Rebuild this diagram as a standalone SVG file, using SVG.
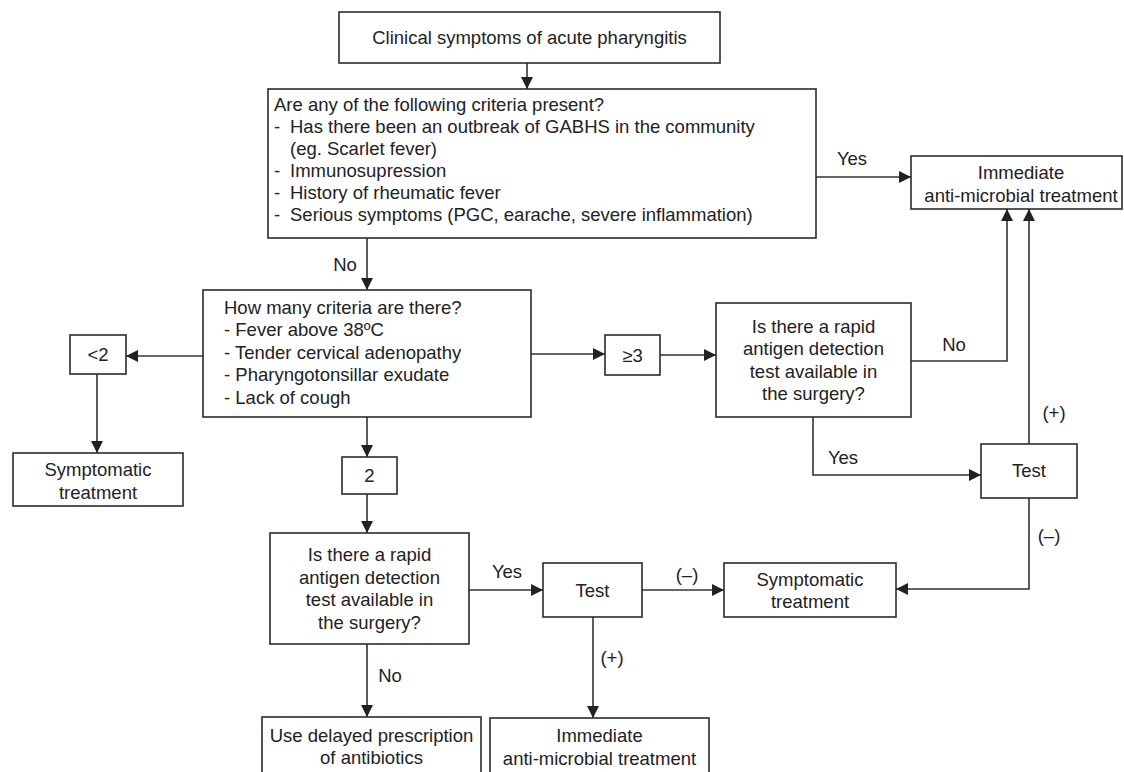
<svg xmlns="http://www.w3.org/2000/svg" width="1124" height="772" viewBox="0 0 1124 772">
<style>
.box{fill:#fff;stroke:#2b2b2b;stroke-width:1.6}
.t{font-family:"Liberation Sans",Arial,sans-serif;font-size:18.5px;fill:#222}
.c{text-anchor:middle}
.ln{fill:none;stroke:#333;stroke-width:1.6;marker-end:url(#ah)}
</style>
<defs>
<marker id="ah" markerUnits="userSpaceOnUse" markerWidth="13" markerHeight="13" refX="12" refY="6" orient="auto">
<path d="M0,0 L12,6 L0,12 z" fill="#222"/>
</marker>
</defs>
<rect width="1124" height="772" fill="#fff"/>
<g id="connectors">
<path class="ln" d="M527,63 V89"/>
<path class="ln" d="M816,177 H911"/>
<path class="ln" d="M367,238 V290"/>
<path class="ln" d="M203,356 H126"/>
<path class="ln" d="M97,374 V453"/>
<path class="ln" d="M531,354 H605"/>
<path class="ln" d="M660,355 H716"/>
<path class="ln" d="M911,361 H1007 V209"/>
<path class="ln" d="M813,417 V475 H981"/>
<path class="ln" d="M1029,444 V209"/>
<path class="ln" d="M1029,498 V589 H896"/>
<path class="ln" d="M367,417 V457"/>
<path class="ln" d="M367,494 V533"/>
<path class="ln" d="M469,590 H543"/>
<path class="ln" d="M367,644 V717"/>
<path class="ln" d="M642,590 H724"/>
<path class="ln" d="M593,617 V718"/>
</g>
<g id="labels">
<text class="t c" x="852" y="165">Yes</text>
<text class="t c" x="345" y="271">No</text>
<text class="t c" x="954" y="351">No</text>
<text class="t c" x="843" y="464">Yes</text>
<text class="t c" x="1054" y="419">(+)</text>
<text class="t c" x="1049" y="542">(–)</text>
<text class="t c" x="507" y="578">Yes</text>
<text class="t c" x="390" y="682">No</text>
<text class="t c" x="687" y="581">(–)</text>
<text class="t c" x="612" y="664">(+)</text>
</g>
<g id="n-start">
<rect class="box" x="339" y="12" width="381" height="51"/>
<text class="t c" x="529.5" y="44">Clinical symptoms of acute pharyngitis</text>
</g>
<g id="n-criteria">
<rect class="box" x="268" y="89" width="548" height="149"/>
<text class="t" x="274" y="111">Are any of the following criteria present?</text>
<text class="t" x="274" y="133">-</text><text class="t" x="290" y="133">Has there been an outbreak of GABHS in the community</text>
<text class="t" x="290" y="155">(eg. Scarlet fever)</text>
<text class="t" x="274" y="177">-</text><text class="t" x="290" y="177">Immunosupression</text>
<text class="t" x="274" y="199">-</text><text class="t" x="290" y="199">History of rheumatic fever</text>
<text class="t" x="274" y="221">-</text><text class="t" x="290" y="221">Serious symptoms (PGC, earache, severe inflammation)</text>
</g>
<g id="n-immediate-top">
<rect class="box" x="911" y="156" width="211" height="53"/>
<text class="t c" x="1021" y="178.5">Immediate</text>
<text class="t c" x="1021" y="201.5">anti-microbial treatment</text>
</g>
<g id="n-howmany">
<rect class="box" x="203" y="290" width="328" height="127"/>
<text class="t" x="224" y="313.5">How many criteria are there?</text>
<text class="t" x="224" y="336">- Fever above 38ºC</text>
<text class="t" x="224" y="358.5">- Tender cervical adenopathy</text>
<text class="t" x="224" y="381">- Pharyngotonsillar exudate</text>
<text class="t" x="224" y="403.5">- Lack of cough</text>
</g>
<g id="n-lt2">
<rect class="box" x="70" y="335" width="56" height="39"/>
<text class="t c" x="98" y="361">&lt;2</text>
</g>
<g id="n-symp-left">
<rect class="box" x="13" y="453" width="170" height="53"/>
<text class="t c" x="98" y="475.5">Symptomatic</text>
<text class="t c" x="98" y="498.5">treatment</text>
</g>
<g id="n-ge3">
<rect class="box" x="605" y="335" width="55" height="40"/>
<text class="t c" x="632.5" y="361.5">≥3</text>
</g>
<g id="n-rapid-right">
<rect class="box" x="716" y="303" width="195" height="114"/>
<text class="t c" x="813.5" y="332.5">Is there a rapid</text>
<text class="t c" x="813.5" y="355">antigen detection</text>
<text class="t c" x="813.5" y="377.5">test available in</text>
<text class="t c" x="813.5" y="400">the surgery?</text>
</g>
<g id="n-test-right">
<rect class="box" x="981" y="444" width="96" height="54"/>
<text class="t c" x="1029" y="477">Test</text>
</g>
<g id="n-two">
<rect class="box" x="342" y="457" width="55" height="37"/>
<text class="t c" x="369.5" y="482">2</text>
</g>
<g id="n-rapid-bottom">
<rect class="box" x="270" y="533" width="199" height="111"/>
<text class="t c" x="369.5" y="561">Is there a rapid</text>
<text class="t c" x="369.5" y="583.5">antigen detection</text>
<text class="t c" x="369.5" y="606">test available in</text>
<text class="t c" x="369.5" y="628.5">the surgery?</text>
</g>
<g id="n-test-bottom">
<rect class="box" x="543" y="563" width="99" height="54"/>
<text class="t c" x="592.5" y="596.5">Test</text>
</g>
<g id="n-symp-bottom">
<rect class="box" x="724" y="563" width="172" height="54"/>
<text class="t c" x="810" y="585.5">Symptomatic</text>
<text class="t c" x="810" y="607.5">treatment</text>
</g>
<g id="n-delayed">
<rect class="box" x="262" y="717" width="219" height="70"/>
<text class="t c" x="371.5" y="741.5">Use delayed prescription</text>
<text class="t c" x="371.5" y="764">of antibiotics</text>
</g>
<g id="n-immediate-bottom">
<rect class="box" x="490" y="718" width="219" height="70"/>
<text class="t c" x="599.5" y="741.5">Immediate</text>
<text class="t c" x="599.5" y="764.5">anti-microbial treatment</text>
</g>
</svg>
